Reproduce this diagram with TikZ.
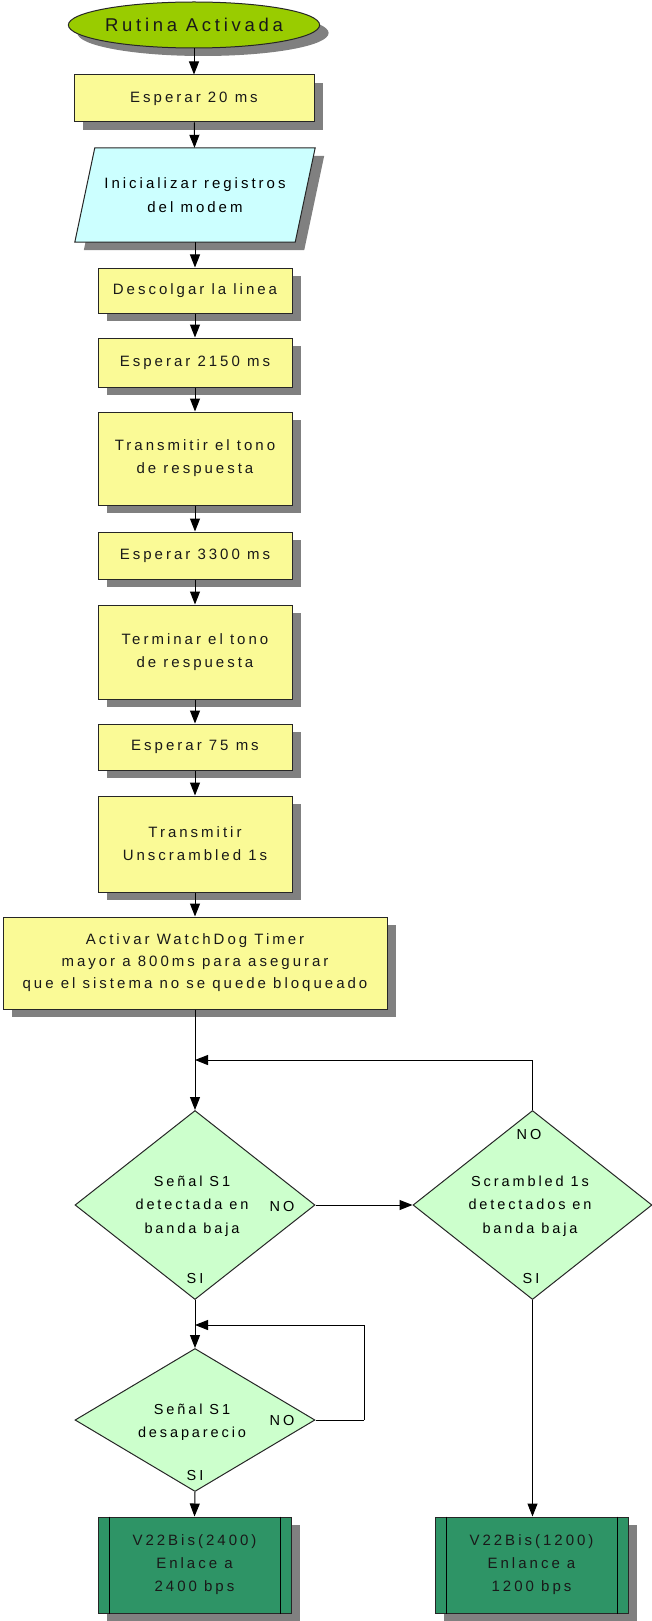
\documentclass[tikz,border=0pt]{standalone}
\usepackage{fontspec}
\setmainfont{Liberation Sans}[LetterSpace=20]
\usetikzlibrary{shapes.geometric,arrows.meta,calc,shadows}

\definecolor{procfill}{HTML}{FAFA96}
\definecolor{iofill}{HTML}{CCFFFF}
\definecolor{startfill}{HTML}{99CC00}
\definecolor{decfill}{HTML}{CCFFCC}
\definecolor{subfill}{HTML}{2E9466}
\definecolor{shadowgray}{HTML}{808080}

\tikzset{
  base/.style={draw=black!85, line width=1pt, inner sep=0pt, align=center, text=black!90},
  shd/.style={drop shadow={shadow xshift=9pt, shadow yshift=-8pt, fill=shadowgray, opacity=1}},
  proc/.style={base, shd, rectangle, fill=procfill, minimum width=194pt,
    font=\fontsize{15}{23}\selectfont},
  startnode/.style={base, shd, ellipse, fill=startfill, minimum width=240pt, minimum height=46pt,
    font=\fontsize{18.5}{22}\selectfont},
  decision/.style={base, diamond, fill=decfill},
  dectext/.style={inner sep=0pt, align=center, font=\fontsize{14.5}{23.5}\selectfont},
  lbl/.style={inner sep=0pt, font=\fontsize{14.5}{16}\selectfont},
  sub/.style={base, shd, rectangle, fill=subfill, minimum width=193pt, minimum height=96pt,
    font=\fontsize{15}{23}\selectfont},
  arr/.style={draw=black, line width=1pt, -{Triangle[width=10pt,length=13pt]}},
  line/.style={draw=black, line width=1pt}
}

\begin{document}
\begin{tikzpicture}[x=1pt,y=-1pt]
\useasboundingbox (0,0) rectangle (652,1621);

% main column
\node[startnode] (start) at (194,25) {Rutina Activada};
\node[proc, minimum width=240pt, minimum height=47pt] (w20) at (194,98.5) {Esperar 20 ms};

% input/output step drawn as a parallelogram around a frame node
\node[inner sep=0pt, minimum width=240pt, minimum height=94pt] (init) at (195,195) {};
\fill[shadowgray] ($(init.north west)+(29,8)$) -- ($(init.north east)+(9,8)$)
  -- ($(init.south east)+(-11,8)$) -- ($(init.south west)+(9,8)$) -- cycle;
\draw[fill=iofill, draw=black!85, line width=1pt] ($(init.north west)+(20,0)$) -- (init.north east)
  -- ($(init.south east)+(-20,0)$) -- (init.south west) -- cycle;
\node[align=center, inner sep=0pt, font=\fontsize{15}{24}\selectfont] (initt) at (init.center) {Inicializar registros\\del modem};

\node[proc, minimum height=45pt] (desc) at (195,290.5) {Descolgar la linea};
\node[proc, minimum height=49pt] (w2150) at (195,362.5) {Esperar 2150 ms};
\node[proc, minimum height=93pt] (tono) at (195,458.5) {Transmitir el tono\\de respuesta};
\node[proc, minimum height=47pt] (w3300) at (195,555.5) {Esperar 3300 ms};
\node[proc, minimum height=94pt] (term) at (195,652) {Terminar el tono\\de respuesta};
\node[proc, minimum height=46pt] (w75) at (195,747) {Esperar 75 ms};
\node[proc, minimum height=96pt] (unscr) at (195,844) {Transmitir\\Unscrambled 1s};
\node[proc, minimum width=384pt, minimum height=92pt, font=\fontsize{15}{22}\selectfont] (wdog) at (195,963)
  {Activar WatchDog Timer\\mayor a 800ms para asegurar\\que el sistema no se quede bloqueado};

% decisions
\node[decision, minimum width=240pt, minimum height=189pt] (d1) at (195,1205) {};
\node[dectext] (d1t) at (192,1206) {Señal S1\\detectada en\\banda baja};
\node[lbl] (d1no) at (282,1206) {NO};
\node[lbl] (d1si) at (195,1278) {SI};

\node[decision, minimum width=239pt, minimum height=189pt] (d2) at (532.5,1205) {};
\node[dectext] (d2t) at (530,1206) {Scrambled 1s\\detectados en\\banda baja};
\node[lbl] (d2no) at (529,1134) {NO};
\node[lbl] (d2si) at (531,1278) {SI};

\node[decision, minimum width=240pt, minimum height=143pt] (d3) at (195,1420) {};
\node[dectext] (d3t) at (192,1422) {Señal S1\\desaparecio};
\node[lbl] (d3no) at (282,1420) {NO};
\node[lbl] (d3si) at (195,1475) {SI};

% predefined processes
\node[sub] (v24) at (194.5,1565) {V22Bis(2400)\\Enlace a\\2400 bps};
\node[sub] (v12) at (531.5,1565) {V22Bis(1200)\\Enlance a\\1200 bps};
\foreach \b in {v24,v12}{
  \draw[line] ($(\b.north west)+(12,0)$) -- ($(\b.south west)+(12,0)$);
  \draw[line] ($(\b.north east)+(-11,0)$) -- ($(\b.south east)+(-11,0)$);
}

% connectors
\draw[arr] (start) -- (w20);
\draw[arr] (w20) -- (init);
\draw[arr] (init) -- (desc);
\draw[arr] (desc) -- (w2150);
\draw[arr] (w2150) -- (tono);
\draw[arr] (tono) -- (w3300);
\draw[arr] (w3300) -- (term);
\draw[arr] (term) -- (w75);
\draw[arr] (w75) -- (unscr);
\draw[arr] (unscr) -- (wdog);
\draw[arr] (wdog) -- (d1);

\coordinate (m1) at (195,1060);
\draw[arr] (d2.north) |- (m1);
\draw[arr] (d1.east) -- (d2.west);
\draw[arr] (d1.south) -- (d3.north);

\coordinate (m2) at (195,1325);
\coordinate (r2) at (364,1420);
\draw[line] (d3.east) -- (r2);
\draw[arr] (r2) |- (m2);

\draw[arr] (d3.south) -- (v24.north);
\draw[arr] (d2.south) -- (d2.south |- v12.north);
\end{tikzpicture}
\end{document}
